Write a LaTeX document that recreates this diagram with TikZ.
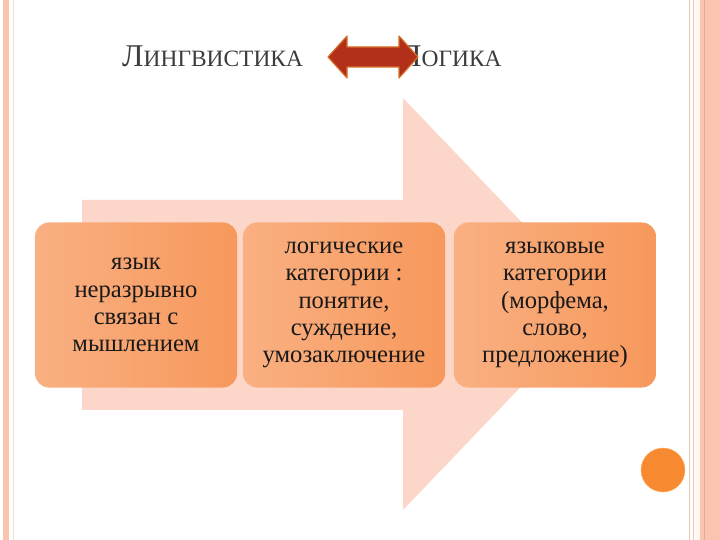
\documentclass[tikz,border=0pt]{standalone}
\usepackage{fontspec}
\setmainfont{Liberation Serif}
\usetikzlibrary{shadings}
\definecolor{frame}{RGB}{251,196,176}
\definecolor{frameline}{RGB}{232,170,150}
\definecolor{bigpink}{RGB}{252,214,200}
\definecolor{boxlight}{RGB}{249,176,130}
\definecolor{boxdark}{RGB}{247,152,92}
\definecolor{arrowred}{RGB}{178,48,26}
\definecolor{arrowedge}{RGB}{214,110,40}
\definecolor{dotorange}{RGB}{247,137,48}
\definecolor{titlegray}{RGB}{60,60,60}

\begin{document}
\begin{tikzpicture}[x=0.03cm, y=-0.03cm,
    card/.style={rounded corners=12pt, left color=boxlight, right color=boxdark,
      minimum width=202*0.8536pt, minimum height=165*0.8536pt, align=center,
      font=\fontsize{21}{23.2}\selectfont, text=black!90},
    title/.style={text=titlegray, inner sep=0pt}]
    \useasboundingbox (0,0) rectangle (720,540);
    % Frame
    \fill[frame] (3,0) rectangle (9,540);
    \draw[frameline!40, line width=0.6pt] (13,0) -- (13,540);
    \draw[frameline!70, line width=0.6pt] (689,0) -- (689,540);
    \draw[frameline!70, line width=0.6pt] (693,0) -- (693,540);
    \fill[orange!6] (695,0) rectangle (700,540);
    \fill[frame] (700,0) rectangle (720,540);
    \draw[frameline, line width=0.8pt] (704,0) -- (704,540);

    % Big arrow
    \fill[bigpink] (82,200) -- (403,200) -- (403,98) -- (600,304) -- (403,510)
      -- (403,410) -- (82,410) -- cycle;

    % Title
    \node[title, anchor=base west] (ling) at (122,67)
      {\fontsize{27}{27}\selectfont Л\fontsize{20}{20}\selectfont ИНГВИСТИКА};
    \node[title, anchor=base west] (logic) at (400,67)
      {\fontsize{27}{27}\selectfont Л\fontsize{20}{20}\selectfont ОГИКА};
    \fill[arrowred, draw=arrowedge, line width=1pt, line join=round]
      (328,57) -- (347,36) -- (347,47) -- (399,47) -- (399,36) -- (418,57)
      -- (399,78) -- (399,67) -- (347,67) -- (347,78) -- cycle;

    % Nodes
    \node[card] (lang) at (136,305) {язык\\неразрывно\\связан с\\мышлением};
    \node[card] (logcat) at (344,305) {логические\\категории :\\понятие,\\суждение,\\умозаключение};
    \node[card] (langcat) at (555,305) {языковые\\категории\\(морфема,\\слово,\\предложение)};

    % Dot
    \node[circle, fill=dotorange, draw=orange!60, minimum size=44*0.8536pt, inner sep=0pt] (dot) at (663,470) {};
\end{tikzpicture}
\end{document}
